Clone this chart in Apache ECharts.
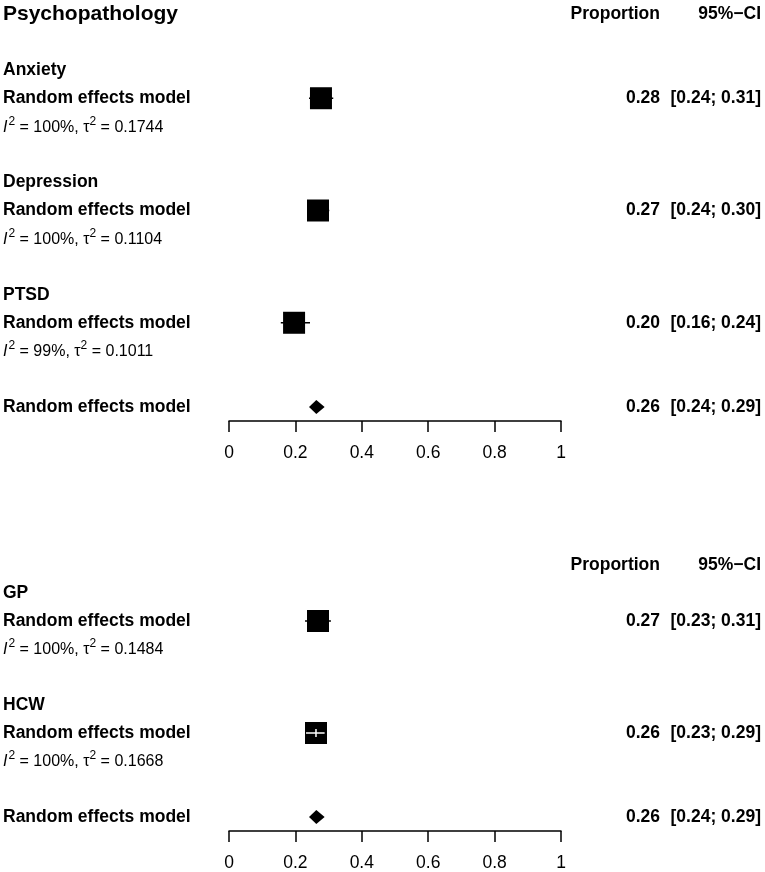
<!DOCTYPE html>
<html><head><meta charset="utf-8">
<script src="https://cdn.jsdelivr.net/npm/echarts@6/dist/echarts.min.js"></script>
<style>html,body{margin:0;padding:0;background:#fff}#c{width:765px;height:872px}</style>
</head><body><div id="c"></div>
<script>
// ---------- data ----------
const panelTitle = 'Psychopathology';
const colHeaders = ['Proportion', '95%\u2212CI'];
const modelLabel = 'Random effects model';
const xTickValues = [0, 0.2, 0.4, 0.6, 0.8, 1];

const groups1 = ['Anxiety', 'Depression', 'PTSD'];
const est1 = [0.277, 0.268, 0.196];
const lower1 = [0.241, 0.238, 0.156];
const upper1 = [0.314, 0.302, 0.244];
const i2_1 = ['100%', '100%', '99%'];
const tau2_1 = ['0.1744', '0.1104', '0.1011'];
const overall1 = [0.263, 0.241, 0.288]; // est, lower, upper

const groups2 = ['GP', 'HCW'];
const est2 = [0.268, 0.262];
const lower2 = [0.229, 0.232];
const upper2 = [0.307, 0.288];
const i2_2 = ['100%', '100%'];
const tau2_2 = ['0.1484', '0.1668'];
const overall2 = [0.263, 0.241, 0.288];

// ---------- layout / style ----------
const FAMILY = '"Liberation Sans", Arial, sans-serif';
const LEFT_X = 3, PROP_X = 660, CI_X = 761;
const SQ = 22, DIA_H = 7;
const BIG = 17.5, TITLE = 21, HET = 16, SUP = 12, SUP_DY = -6;

const mctx = document.createElement('canvas').getContext('2d');
function tw(text, size, weight, style) {
  mctx.font = (style || 'normal') + ' ' + (weight || 'normal') + ' ' + size + 'px ' + FAMILY;
  return mctx.measureText(text).width;
}

function buildRows(title, groups, est, lo, hi, i2, tau2, overall) {
  const rows = [{ kind: 'header', title: title }];
  if (title) rows.push({ kind: 'blank' });
  groups.forEach((g, i) => {
    rows.push({ kind: 'group', label: g });
    rows.push({ kind: 'model', est: est[i], lo: lo[i], hi: hi[i] });
    rows.push({ kind: 'het', i2: i2[i], tau2: tau2[i] });
    rows.push({ kind: 'blank' });
  });
  rows.push({ kind: 'overall', est: overall[0], lo: overall[1], hi: overall[2] });
  return rows;
}

const rows1 = buildRows(panelTitle, groups1, est1, lower1, upper1, i2_1, tau2_1, overall1);
const rows2 = buildRows('', groups2, est2, lower2, upper2, i2_2, tau2_2, overall2);

function textEl(text, x, y, align, size, weight, style) {
  return { type: 'text', silent: true, style: {
    text: text, x: x, y: y, fill: '#000', fontSize: size, fontFamily: FAMILY,
    fontWeight: weight || 'normal', fontStyle: style || 'normal',
    align: align, verticalAlign: 'middle' } };
}

function makeRender(rows) {
  return function (params, api) {
    const r = rows[params.dataIndex];
    const row = api.value(1);
    const y = api.coord([0, row])[1];
    const ch = [];
    if (r.kind === 'header') {
      if (r.title) ch.push(textEl(r.title, LEFT_X, y, 'left', TITLE, 'bold'));
      ch.push(textEl(colHeaders[0], PROP_X, y, 'right', BIG, 'bold'));
      ch.push(textEl(colHeaders[1], CI_X, y, 'right', BIG, 'bold'));
    } else if (r.kind === 'group') {
      ch.push(textEl(r.label, LEFT_X, y, 'left', BIG, 'bold'));
    } else if (r.kind === 'het') {
      const yy = y + 1;
      const pieces = [
        { t: 'I', size: HET, style: 'italic', dy: 0 },
        { t: '2', size: SUP, dy: SUP_DY },
        { t: ' = ' + r.i2 + ', \u03c4', size: HET, dy: 0 },
        { t: '2', size: SUP, dy: SUP_DY },
        { t: ' = ' + r.tau2, size: HET, dy: 0 }
      ];
      let x = LEFT_X;
      pieces.forEach(p => {
        ch.push(textEl(p.t, x, yy + p.dy, 'left', p.size, 'normal', p.style));
        x += tw(p.t, p.size, 'normal', p.style) + (p.style === 'italic' ? 1 : 0);
      });
    } else if (r.kind === 'model' || r.kind === 'overall') {
      ch.push(textEl(modelLabel, LEFT_X, y, 'left', BIG, 'bold'));
      ch.push(textEl(r.est.toFixed(2), PROP_X, y, 'right', BIG, 'bold'));
      ch.push(textEl('[' + r.lo.toFixed(2) + '; ' + r.hi.toFixed(2) + ']', CI_X, y, 'right', BIG, 'bold'));
      const cx = api.coord([r.est, row])[0];
      const xl = api.coord([r.lo, row])[0];
      const xh = api.coord([r.hi, row])[0];
      if (r.kind === 'model') {
        const inside = xl >= cx - SQ / 2 && xh <= cx + SQ / 2;
        const col = inside ? '#fff' : '#000';
        const line = { type: 'line', silent: true, shape: { x1: xl, y1: y, x2: xh, y2: y },
          style: { stroke: col, lineWidth: 1.5 } };
        const sq = { type: 'rect', silent: true,
          shape: { x: cx - SQ / 2, y: y - SQ / 2, width: SQ, height: SQ }, style: { fill: '#000' } };
        if (inside) {
          ch.push(sq, line, { type: 'line', silent: true,
            shape: { x1: cx, y1: y - 4, x2: cx, y2: y + 4 }, style: { stroke: col, lineWidth: 1.5 } });
        } else { ch.push(line, sq); }
      } else {
        ch.push({ type: 'polygon', silent: true,
          shape: { points: [[xl, y], [cx, y - DIA_H], [xh, y], [cx, y + DIA_H]] },
          style: { fill: '#000' } });
      }
    }
    return { type: 'group', children: ch };
  };
}

function xAxisFor(gi) {
  return {
    gridIndex: gi, type: 'value', min: xTickValues[0], max: xTickValues[xTickValues.length - 1],
    interval: 0.2, position: 'bottom',
    axisLine: { show: true, onZero: false, lineStyle: { color: '#000', width: 1.5 } },
    axisTick: { show: true, length: 11, customValues: xTickValues, lineStyle: { color: '#000', width: 1.5 } },
    axisLabel: { show: true, customValues: xTickValues, fontSize: 17.5, color: '#000', fontFamily: FAMILY, margin: 23,
      formatter: v => String(+(+v).toFixed(1)) },
    splitLine: { show: false }
  };
}
function yAxisFor(gi, rows) {
  return { gridIndex: gi, type: 'value', min: -0.5, max: rows.length - 0.5, inverse: true, show: false,
    splitLine: { show: false } };
}

const chart = echarts.init(document.getElementById('c'), null, { renderer: 'canvas' });
chart.setOption({
  animation: false,
  backgroundColor: '#fff',
  grid: [
    { left: 229, width: 332, top: 0, height: 421 },
    { left: 229, width: 332, top: 551, height: 280 }
  ],
  xAxis: [xAxisFor(0), xAxisFor(1)],
  yAxis: [yAxisFor(0, rows1), yAxisFor(1, rows2)],
  series: [
    { type: 'custom', xAxisIndex: 0, yAxisIndex: 0, clip: false, silent: true,
      data: rows1.map((r, i) => [r.est != null ? r.est : 0, i]), encode: { x: 0, y: 1 },
      renderItem: makeRender(rows1) },
    { type: 'custom', xAxisIndex: 1, yAxisIndex: 1, clip: false, silent: true,
      data: rows2.map((r, i) => [r.est != null ? r.est : 0, i]), encode: { x: 0, y: 1 },
      renderItem: makeRender(rows2) }
  ]
});
</script>
</body></html>
